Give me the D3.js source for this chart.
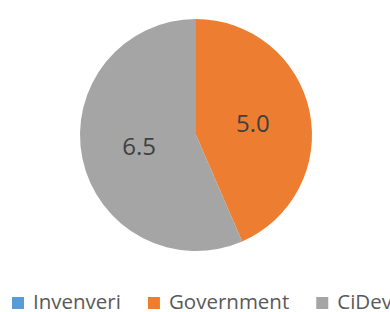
<!DOCTYPE html>
<html lang="en">
<head>
<meta charset="UTF-8" />
<title>Pie</title>
<script src="https://cdn.jsdelivr.net/npm/d3@7"></script>
<style>
    html, body {
        margin: 0;
        padding: 0;
        background: #fff;
        overflow: hidden;
    }
    svg {
        display: block;
        font-family: "Open Sans", sans-serif;
    }
</style>
</head>
<body>
<svg id="chart" width="390" height="312"></svg>
<script>
    const categories = ["Invenveri", "Government", "CiDev"];
    const values = [0, 5.0, 6.5];
    const colors = ["#5B9BD5", "#ED7D31", "#A5A5A5"];

    const svg = d3.select("#chart");
    const cx = 196, cy = 135, radius = 116;

    const data = categories.map((c, i) => ({ name: c, value: values[i] }));

    const pie = d3.pie().value(d => d.value).sort(null);
    const arc = d3.arc().innerRadius(0).outerRadius(radius);
    const color = d3.scaleOrdinal().domain(categories).range(colors);

    const g = svg.append("g").attr("transform", `translate(${cx},${cy})`);
    const arcs = pie(data);

    g.selectAll("path")
        .data(arcs)
        .enter()
        .append("path")
        .attr("d", arc)
        .attr("fill", d => color(d.data.name));

    // value labels, only for slices that show
    g.selectAll("text")
        .data(arcs.filter(d => d.data.value > 0))
        .enter()
        .append("text")
        .attr("transform", d => `translate(${arc.centroid(d)})`)
        .attr("text-anchor", "middle")
        .attr("dy", "0.36em")
        .attr("fill", "#404040")
        .attr("font-size", "24px")
        .text(d => d3.format(".1f")(d.data.value));

    // legend
    const legend = svg.append("g").attr("transform", "translate(12,302)");
    let x = 0;
    categories.forEach(c => {
        const item = legend.append("g").attr("transform", `translate(${x},0)`);
        item.append("rect")
            .attr("x", 0)
            .attr("y", -5)
            .attr("width", 12)
            .attr("height", 12)
            .attr("fill", color(c));
        const t = item.append("text")
            .attr("x", 21)
            .attr("dy", "0.36em")
            .attr("fill", "#595959")
            .attr("font-size", "20.5px")
            .text(c);
        x += 21 + t.node().getComputedTextLength() + 27;
    });
</script>
</body>
</html>
